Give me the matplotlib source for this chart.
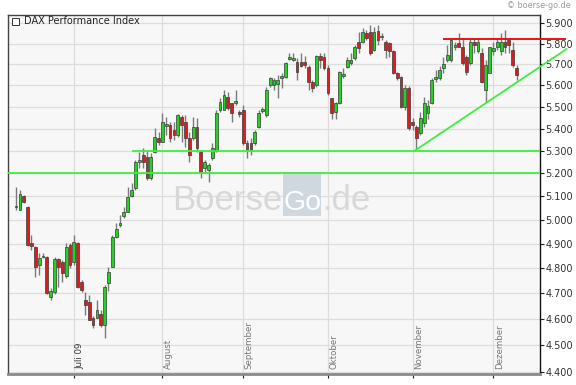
import matplotlib
matplotlib.use("Agg")
import matplotlib.pyplot as plt
from matplotlib.patches import Rectangle
from matplotlib.ticker import FixedLocator, FuncFormatter, NullLocator

# daily candles, trading-day index 0 = 10 June 2009
opens = [
    5055, 5042, 5102, 5055, 4904, 4888, 4814, 4847, 4847, 4686,
    4706, 4838, 4826, 4769, 4896, 4826, 4904, 4745, 4674, 4666,
    4604, 4604, 4619, 4577, 4741, 4806, 4929, 4979, 5017, 5034,
    5102, 5136, 5250, 5281, 5272, 5180, 5295, 5357, 5339, 5412,
    5416, 5394, 5371, 5453, 5430, 5357, 5357, 5407, 5295, 5224,
    5215, 5268, 5299, 5485, 5485, 5546, 5518, 5518, 5476, 5485,
    5335, 5335, 5335, 5407, 5480, 5462, 5602, 5602, 5607, 5635,
    5640, 5726, 5721, 5711, 5711, 5711, 5687, 5616, 5602, 5741,
    5736, 5682, 5541, 5476, 5518, 5644, 5687, 5706, 5731, 5809,
    5809, 5853, 5858, 5770, 5863, 5833, 5809, 5804, 5765, 5658,
    5640, 5499, 5588, 5430, 5407, 5380, 5425, 5471, 5518, 5630,
    5635, 5682, 5721, 5721, 5784, 5804, 5784, 5736, 5706, 5809,
    5765, 5756, 5579, 5658, 5765, 5784, 5765, 5809, 5819, 5770,
    5682,
]
highs = [
    5140, 5128, 5106, 5059, 4937, 4892, 4863, 4863, 4851, 4721,
    4847, 4843, 4834, 4904, 4904, 4937, 4908, 4753, 4706, 4694,
    4611, 4674, 4635, 4733, 4806, 4937, 4987, 5021, 5055, 5140,
    5158, 5259, 5295, 5313, 5304, 5290, 5403, 5384, 5471, 5453,
    5430, 5430, 5467, 5462, 5462, 5384, 5453, 5448, 5304, 5259,
    5246, 5335, 5485, 5541, 5579, 5569, 5518, 5579, 5485, 5508,
    5348, 5357, 5394, 5485, 5499, 5592, 5640, 5635, 5649, 5658,
    5711, 5756, 5756, 5731, 5756, 5741, 5697, 5626, 5746, 5756,
    5756, 5697, 5541, 5522, 5668, 5682, 5736, 5756, 5794, 5858,
    5878, 5868, 5893, 5883, 5893, 5853, 5819, 5809, 5770, 5663,
    5644, 5602, 5597, 5448, 5416, 5476, 5546, 5532, 5635, 5673,
    5692, 5736, 5794, 5828, 5809, 5853, 5828, 5746, 5828, 5828,
    5828, 5780, 5721, 5784, 5809, 5828, 5853, 5868, 5819, 5809,
    5697,
]
lows = [
    5042, 5042, 5072, 4892, 4875, 4765, 4773, 4843, 4698, 4674,
    4698, 4725, 4745, 4761, 4802, 4814, 4721, 4706, 4615, 4596,
    4565, 4604, 4569, 4527, 4710, 4806, 4925, 4970, 5008, 5034,
    5098, 5128, 5224, 5224, 5171, 5171, 5290, 5326, 5339, 5371,
    5339, 5348, 5362, 5339, 5317, 5250, 5348, 5295, 5180, 5206,
    5162, 5259, 5295, 5476, 5485, 5485, 5430, 5508, 5453, 5326,
    5268, 5281, 5326, 5403, 5471, 5453, 5592, 5579, 5541, 5588,
    5635, 5721, 5716, 5626, 5687, 5682, 5579, 5569, 5592, 5682,
    5673, 5555, 5444, 5444, 5513, 5635, 5682, 5697, 5721, 5756,
    5804, 5819, 5746, 5765, 5794, 5819, 5731, 5736, 5654, 5626,
    5494, 5485, 5394, 5394, 5304, 5371, 5407, 5444, 5513, 5616,
    5626, 5658, 5711, 5711, 5770, 5784, 5697, 5649, 5697, 5756,
    5756, 5611, 5522, 5658, 5746, 5770, 5746, 5756, 5756, 5687,
    5626,
]
closes = [
    5059, 5110, 5076, 4896, 4892, 4806, 4843, 4851, 4702, 4710,
    4838, 4806, 4781, 4888, 4814, 4908, 4725, 4714, 4654, 4596,
    4577, 4635, 4577, 4725, 4785, 4929, 4962, 4987, 5034, 5098,
    5128, 5250, 5259, 5250, 5180, 5272, 5362, 5339, 5430, 5421,
    5357, 5371, 5462, 5416, 5357, 5281, 5407, 5313, 5206, 5250,
    5237, 5313, 5471, 5522, 5555, 5494, 5471, 5527, 5467, 5335,
    5304, 5304, 5384, 5471, 5490, 5579, 5635, 5626, 5626, 5644,
    5706, 5736, 5731, 5663, 5692, 5697, 5616, 5588, 5741, 5721,
    5682, 5565, 5471, 5518, 5663, 5654, 5721, 5721, 5784, 5780,
    5858, 5828, 5756, 5858, 5819, 5838, 5770, 5765, 5658, 5635,
    5499, 5588, 5403, 5416, 5357, 5448, 5518, 5504, 5626, 5640,
    5673, 5701, 5746, 5819, 5794, 5784, 5706, 5663, 5809, 5794,
    5809, 5616, 5697, 5784, 5780, 5809, 5809, 5784, 5794, 5697,
    5649,
]

month_labels = ["Juli 09", "August", "September", "Oktober", "November", "Dezember"]
month_starts = [15, 38, 59, 81, 103, 124]
price_ticks = list(range(4400, 6000, 100))

# drawn analysis lines
support_low = 5200
support_high = 5300
support_high_from = 30.4
resistance = 5823
resistance_span = (111.2, 142.6)
trend_x = [103.5, 143.0]
trend_y = [5300, 5774]

UP = "#22d422"
DOWN = "#dc1c1c"
LIME = "#3cf03c"

fig = plt.figure(figsize=(5.76, 3.85), dpi=100)
ax = fig.add_axes((8 / 576, 11 / 385, 532 / 576, 359 / 385))
ax.set_facecolor("#f7f7f7")
ax.set_yscale("log")
ax.set_xlim(-2.1, 136.1)
ax.set_ylim(4392, 5942)

for s in ("left", "top"):
    ax.spines[s].set_color("#444444")
    ax.spines[s].set_linewidth(1.0)
ax.spines["right"].set_color("#111111")
ax.spines["right"].set_linewidth(1.0)
ax.spines["bottom"].set_color("#8a8a8a")
ax.spines["bottom"].set_linewidth(2.0)

ax.yaxis.tick_right()
ax.yaxis.set_major_locator(FixedLocator(price_ticks))
ax.yaxis.set_minor_locator(NullLocator())
ax.yaxis.set_major_formatter(
    FuncFormatter(lambda v, _: f"{int(round(v)):,}".replace(",", "."))
)
ax.tick_params(axis="y", which="major", length=3, width=0.8, color="#222222",
               labelsize=7, labelcolor="#333333", pad=1)
ax.set_xticks(month_starts)
ax.set_xticklabels([])
ax.tick_params(axis="x", length=3, width=0.8, color="#222222")
ax.grid(True, color="#dddddd", linewidth=0.9)
ax.set_axisbelow(True)

# watermark, behind the candles
wm_y = 1 - 210 / 385
wm = dict(transform=fig.transFigure, fontsize=25, family="Liberation Sans",
          va="baseline", zorder=1)
ax.text(172 / 576, wm_y, "Boerse", color="#d8d8d8", **wm)
ax.add_patch(Rectangle((283 / 576, 1 - 216 / 385), 38 / 576, 44 / 385,
                       transform=fig.transFigure, facecolor="#cfd7df",
                       edgecolor="none", zorder=0.9))
ax.text(284 / 576, wm_y, "Go", color="#ffffff",
        **{**wm, "fontsize": 20.5})
ax.text(323 / 576, wm_y, ".de", color="#d8d8d8", **wm)

for i, (o, h, l, c) in enumerate(zip(opens, highs, lows, closes)):
    ax.vlines(i, l, h, color="#7a7a7a", linewidth=1.0, zorder=2)
    lo, hi = min(o, c), max(o, c)
    ax.add_patch(Rectangle((i - 0.36, lo), 0.72, max(hi - lo, 1.5),
                           facecolor=UP if c >= o else DOWN,
                           edgecolor="#3a3a3a", linewidth=0.5, zorder=3))

for x, lab in zip(month_starts, month_labels):
    ax.text(x + 0.35, 4412, lab, rotation=90, ha="left", va="bottom",
            fontsize=6.2, color="#333333" if lab == "Juli 09" else "#777777",
            zorder=4)

ax.axhline(support_low, color=LIME, linewidth=1.3, zorder=4)
ax.plot([support_high_from, 136.1], [support_high, support_high],
        color=LIME, linewidth=1.3, zorder=4)
ax.plot(trend_x, trend_y, color=LIME, linewidth=1.3, zorder=4, clip_on=False)
ax.plot(list(resistance_span), [resistance, resistance], color="#ee1111",
        linewidth=1.4, zorder=4, clip_on=False)

# header texts
fig.patches.append(Rectangle((12 / 576, 1 - 25 / 385), 7 / 576, 7 / 385,
                             transform=fig.transFigure, facecolor="white",
                             edgecolor="#333333", linewidth=0.7))
fig.text(24 / 576, 1 - 21.5 / 385, "DAX Performance Index", fontsize=7,
         color="#222222", va="center", ha="left")
fig.text(571 / 576, 1 - 6 / 385, "\u00a9 boerse-go.de", fontsize=5.8,
         color="#9a9a9a", va="center", ha="right")

fig.savefig("out.png", dpi=100)
